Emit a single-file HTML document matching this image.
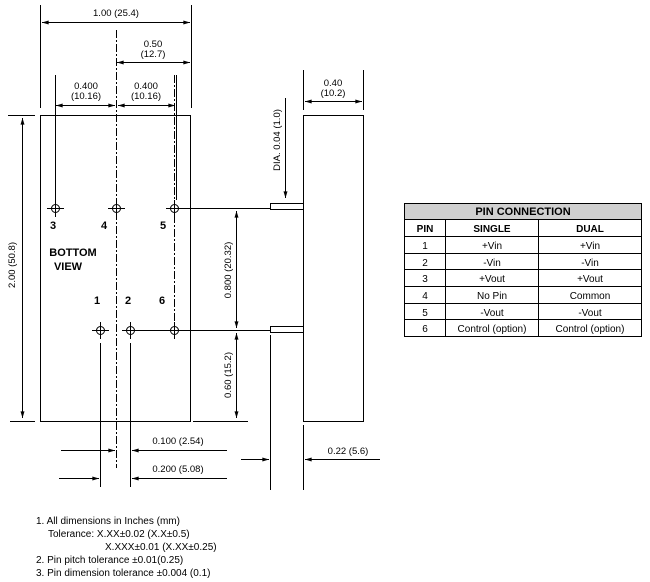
<!DOCTYPE html>
<html><head><meta charset="utf-8"><style>
html,body{margin:0;padding:0;background:#fff}
svg{display:block}
text{font-family:"Liberation Sans",sans-serif;fill:#000}
</style></head><body>
<svg width="650" height="582" viewBox="0 0 650 582" xmlns="http://www.w3.org/2000/svg">
<defs>
<marker id="a" viewBox="0 0 10 6" refX="10" refY="3" markerWidth="7" markerHeight="4" orient="auto-start-reverse" markerUnits="userSpaceOnUse"><path d="M0,0 L10,3 L0,6z" fill="#000"/></marker>
</defs>
<g stroke="#000" stroke-width="1" fill="none">
<!-- body rectangles -->
<rect x="40.5" y="115.5" width="150" height="306"/>
<rect x="303.5" y="115.5" width="60" height="306"/>
<!-- pin stubs -->
<rect x="270.5" y="203.5" width="33" height="6"/>
<rect x="270.5" y="326.5" width="33" height="6"/>
<!-- centerlines -->
<line x1="116.5" y1="30" x2="116.5" y2="468" stroke-dasharray="8,2,2,2"/>
<line x1="174.5" y1="75" x2="174.5" y2="330" stroke-dasharray="8,2,2,2"/>
<!-- top dims -->
<line x1="40.5" y1="5" x2="40.5" y2="108"/>
<line x1="191.5" y1="5" x2="191.5" y2="108"/>
<line x1="42" y1="22.5" x2="190" y2="22.5" marker-start="url(#a)" marker-end="url(#a)"/>
<line x1="117" y1="62.5" x2="190" y2="62.5" marker-start="url(#a)" marker-end="url(#a)"/>
<line x1="55.5" y1="75" x2="55.5" y2="208"/>
<line x1="176.5" y1="75" x2="176.5" y2="200"/>
<line x1="56" y1="105.5" x2="115" y2="105.5" marker-start="url(#a)" marker-end="url(#a)"/>
<line x1="118" y1="105.5" x2="175" y2="105.5" marker-start="url(#a)" marker-end="url(#a)"/>
<!-- side dims -->
<line x1="303.5" y1="70" x2="303.5" y2="110"/>
<line x1="363.5" y1="70" x2="363.5" y2="110"/>
<line x1="305" y1="101.5" x2="362" y2="101.5" marker-start="url(#a)" marker-end="url(#a)"/>
<line x1="285.5" y1="98" x2="285.5" y2="198" marker-end="url(#a)"/>
<!-- left dim -->
<line x1="8" y1="115.5" x2="35" y2="115.5"/>
<line x1="10" y1="421.5" x2="35" y2="421.5"/>
<line x1="22.5" y1="118" x2="22.5" y2="418" marker-start="url(#a)" marker-end="url(#a)"/>
<!-- pins row1 -->
<g>
<circle cx="55.5" cy="208.5" r="4"/><line x1="47" y1="208.5" x2="64" y2="208.5"/><line x1="55.5" y1="200" x2="55.5" y2="217"/>
<circle cx="116.5" cy="208.5" r="4"/><line x1="108" y1="208.5" x2="125" y2="208.5"/><line x1="116.5" y1="200" x2="116.5" y2="217"/>
<circle cx="174.5" cy="208.5" r="4"/><line x1="166" y1="208.5" x2="270" y2="208.5"/><line x1="174.5" y1="200" x2="174.5" y2="217"/>
<circle cx="100.5" cy="330.5" r="4"/><line x1="92" y1="330.5" x2="109" y2="330.5"/><line x1="100.5" y1="322" x2="100.5" y2="339"/>
<circle cx="130.5" cy="330.5" r="4"/><line x1="122" y1="330.5" x2="270" y2="330.5"/><line x1="130.5" y1="322" x2="130.5" y2="339"/>
<circle cx="174.5" cy="330.5" r="4"/><line x1="174.5" y1="322" x2="174.5" y2="339"/>
</g>
<!-- vertical dims right of body -->
<line x1="236.5" y1="211" x2="236.5" y2="328" marker-start="url(#a)" marker-end="url(#a)"/>
<line x1="236.5" y1="333" x2="236.5" y2="418" marker-start="url(#a)" marker-end="url(#a)"/>
<line x1="193" y1="421.5" x2="248" y2="421.5"/>
<!-- bottom dims -->
<line x1="100.5" y1="343" x2="100.5" y2="487"/>
<line x1="130.5" y1="343" x2="130.5" y2="487"/>
<line x1="61" y1="450.5" x2="115" y2="450.5" marker-end="url(#a)"/>
<line x1="227" y1="450.5" x2="132" y2="450.5" marker-end="url(#a)"/>
<line x1="59" y1="478.5" x2="99" y2="478.5" marker-end="url(#a)"/>
<line x1="227" y1="478.5" x2="132" y2="478.5" marker-end="url(#a)"/>
<line x1="270.5" y1="335" x2="270.5" y2="490"/>
<line x1="303.5" y1="425" x2="303.5" y2="490"/>
<line x1="241" y1="459.5" x2="269" y2="459.5" marker-end="url(#a)"/>
<line x1="380" y1="459.5" x2="305" y2="459.5" marker-end="url(#a)"/>
</g>
<!-- dim texts -->
<g font-size="9.5">
<text x="116" y="16" text-anchor="middle">1.00 (25.4)</text>
<text x="153" y="47" text-anchor="middle">0.50</text>
<text x="153" y="57" text-anchor="middle">(12.7)</text>
<text x="86" y="89" text-anchor="middle">0.400</text>
<text x="86" y="99" text-anchor="middle">(10.16)</text>
<text x="146" y="89" text-anchor="middle">0.400</text>
<text x="146" y="99" text-anchor="middle">(10.16)</text>
<text x="333" y="86" text-anchor="middle">0.40</text>
<text x="333" y="96" text-anchor="middle">(10.2)</text>
<text transform="translate(280,140) rotate(-90)" text-anchor="middle">DIA. 0.04 (1.0)</text>
<text transform="translate(15,265) rotate(-90)" text-anchor="middle">2.00 (50.8)</text>
<text transform="translate(231,270) rotate(-90)" text-anchor="middle">0.800 (20.32)</text>
<text transform="translate(231,375) rotate(-90)" text-anchor="middle">0.60 (15.2)</text>
<text x="178" y="444" text-anchor="middle">0.100 (2.54)</text>
<text x="178" y="472" text-anchor="middle">0.200 (5.08)</text>
<text x="348" y="454" text-anchor="middle">0.22 (5.6)</text>
</g>
<g font-size="11" font-weight="bold" text-anchor="middle">
<text x="53" y="229">3</text><text x="104" y="229">4</text><text x="163" y="229">5</text>
<text x="97" y="304">1</text><text x="128" y="304">2</text><text x="162" y="304">6</text>
<text x="73" y="256">BOTTOM</text><text x="68" y="270">VIEW</text>
</g>
<!-- table -->
<g stroke="#000" stroke-width="1" fill="none">
<rect x="404.5" y="203.5" width="237" height="16" fill="#d0d0d0"/>
<rect x="404.5" y="203.5" width="237" height="133"/>
<line x1="404" y1="236.5" x2="642" y2="236.5"/>
<line x1="404" y1="253.5" x2="642" y2="253.5"/>
<line x1="404" y1="269.5" x2="642" y2="269.5"/>
<line x1="404" y1="286.5" x2="642" y2="286.5"/>
<line x1="404" y1="303.5" x2="642" y2="303.5"/>
<line x1="404" y1="319.5" x2="642" y2="319.5"/>
<line x1="445.5" y1="219" x2="445.5" y2="336"/>
<line x1="538.5" y1="219" x2="538.5" y2="336"/>
</g>
<g font-size="10" text-anchor="middle">
<text x="523" y="215" font-weight="bold" font-size="11">PIN CONNECTION</text>
<text x="425" y="232" font-weight="bold">PIN</text><text x="492" y="232" font-weight="bold">SINGLE</text><text x="590" y="232" font-weight="bold">DUAL</text>
<text x="425" y="249">1</text><text x="492" y="249">+Vin</text><text x="590" y="249">+Vin</text>
<text x="425" y="266">2</text><text x="492" y="266">-Vin</text><text x="590" y="266">-Vin</text>
<text x="425" y="282">3</text><text x="492" y="282">+Vout</text><text x="590" y="282">+Vout</text>
<text x="425" y="299">4</text><text x="492" y="299">No Pin</text><text x="590" y="299">Common</text>
<text x="425" y="316">5</text><text x="492" y="316">-Vout</text><text x="590" y="316">-Vout</text>
<text x="425" y="332">6</text><text x="492" y="332">Control (option)</text><text x="590" y="332">Control (option)</text>
</g>
<!-- notes -->
<g font-size="10">
<text x="36" y="524">1. All dimensions in Inches (mm)</text>
<text x="48" y="537">Tolerance: X.XX±0.02 (X.X±0.5)</text>
<text x="105" y="550">X.XXX±0.01 (X.XX±0.25)</text>
<text x="36" y="563">2. Pin pitch tolerance ±0.01(0.25)</text>
<text x="36" y="576">3. Pin dimension tolerance ±0.004 (0.1)</text>
</g>
</svg>
</body></html>
